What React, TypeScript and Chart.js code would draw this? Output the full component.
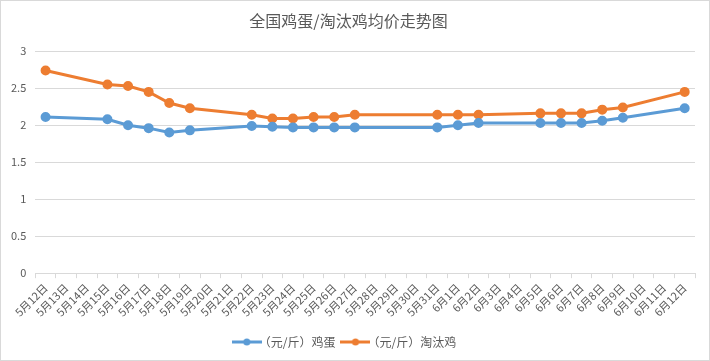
import React, { useEffect, useRef } from "react";
import { Chart, registerables } from "chart.js";

Chart.register(...registerables);

const categories = [
  "5月12日", "5月13日", "5月14日", "5月15日", "5月16日", "5月17日", "5月18日", "5月19日",
  "5月20日", "5月21日", "5月22日", "5月23日", "5月24日", "5月25日", "5月26日", "5月27日",
  "5月28日", "5月29日", "5月30日", "5月31日", "6月1日", "6月2日", "6月3日", "6月4日",
  "6月5日", "6月6日", "6月7日", "6月8日", "6月9日", "6月10日", "6月11日", "6月12日",
];

const eggPrices: (number | null)[] = [
  2.11, null, null, 2.08, 2.0, 1.96, 1.9, 1.93,
  null, null, 1.99, 1.98, 1.97, 1.97, 1.97, 1.97,
  null, null, null, 1.97, 2.0, 2.03, null, null,
  2.03, 2.03, 2.03, 2.06, 2.1, null, null, 2.23,
];

const chickenPrices: (number | null)[] = [
  2.74, null, null, 2.55, 2.53, 2.45, 2.3, 2.23,
  null, null, 2.14, 2.09, 2.09, 2.11, 2.11, 2.14,
  null, null, null, 2.14, 2.14, 2.14, null, null,
  2.16, 2.16, 2.16, 2.21, 2.24, null, null, 2.45,
];

const seriesNames = ["（元/斤）鸡蛋", "（元/斤）淘汰鸡"];
const titleText = "全国鸡蛋/淘汰鸡均价走势图";
const colors = ["#5B9BD5", "#ED7D31"];

function legendIcon(color: string) {
  const c = document.createElement("canvas");
  c.width = 30;
  c.height = 10;
  const ctx = c.getContext("2d")!;
  ctx.strokeStyle = color;
  ctx.lineWidth = 3;
  ctx.beginPath();
  ctx.moveTo(0, 5);
  ctx.lineTo(30, 5);
  ctx.stroke();
  ctx.fillStyle = color;
  ctx.beginPath();
  ctx.arc(15, 5, 3.5, 0, Math.PI * 2);
  ctx.fill();
  return c;
}

export default function App() {
  const ref = useRef<HTMLCanvasElement>(null);
  useEffect(() => {
    const font = "'Noto Sans CJK SC', 'Noto Sans', sans-serif";
    const icons = colors.map(legendIcon);
    const chart = new Chart(ref.current!, {
      type: "line",
      data: {
        labels: categories,
        datasets: [
          {
            label: seriesNames[0],
            data: eggPrices,
            borderColor: colors[0],
            backgroundColor: colors[0],
            borderWidth: 3,
            pointRadius: 3.5,
            pointHoverRadius: 3.5,
            spanGaps: true,
          },
          {
            label: seriesNames[1],
            data: chickenPrices,
            borderColor: colors[1],
            backgroundColor: colors[1],
            borderWidth: 3,
            pointRadius: 3.5,
            pointHoverRadius: 3.5,
            spanGaps: true,
          },
        ],
      },
      options: {
        animation: false,
        responsive: false,
        maintainAspectRatio: false,
        layout: { padding: { left: 1, right: 14, top: 4, bottom: 2 } },
        plugins: {
          title: {
            display: true,
            text: titleText,
            color: "#595959",
            font: { family: font, size: 16, weight: "normal" },
            padding: { top: 6, bottom: 21 },
          },
          legend: {
            position: "bottom",
            labels: {
              color: "#595959",
              font: { family: font, size: 12 },
              usePointStyle: true,
              boxWidth: 30,
              boxHeight: 10,
              padding: 14,
              generateLabels: (ch: any) =>
                ch.data.datasets.map((ds: any, i: number) => ({
                  text: ds.label,
                  fillStyle: colors[i],
                  strokeStyle: colors[i],
                  lineWidth: 0,
                  pointStyle: icons[i],
                  datasetIndex: i,
                  hidden: false,
                  fontColor: "#595959",
                })),
            },
          },
          tooltip: { enabled: false },
        },
        scales: {
          x: {
            offset: true,
            grid: {
              offset: true,
              drawOnChartArea: false,
              drawTicks: true,
              tickLength: 5,
              color: "#d9d9d9",
            },
            border: { color: "#d9d9d9", width: 1 },
            ticks: {
              color: "#595959",
              font: { family: font, size: 11 },
              maxRotation: 45,
              minRotation: 45,
              autoSkip: false,
              padding: 3,
            },
          },
          y: {
            min: 0,
            max: 3,
            ticks: {
              stepSize: 0.5,
              color: "#595959",
              font: { family: font, size: 11 },
              padding: 9,
              callback: (v: any) => String(Number(v)),
            },
            grid: { color: "#d9d9d9", drawTicks: false },
            border: { display: false },
          },
        },
      },
    });
    return () => chart.destroy();
  }, []);
  return (
    <div
      style={{
        position: "fixed",
        left: 0,
        top: 0,
        width: 710,
        height: 361,
        boxSizing: "border-box",
        border: "1px solid #d9d9d9",
        background: "#fff",
      }}
    >
      <canvas ref={ref} width={708} height={359} style={{ display: "block" }} />
    </div>
  );
}
